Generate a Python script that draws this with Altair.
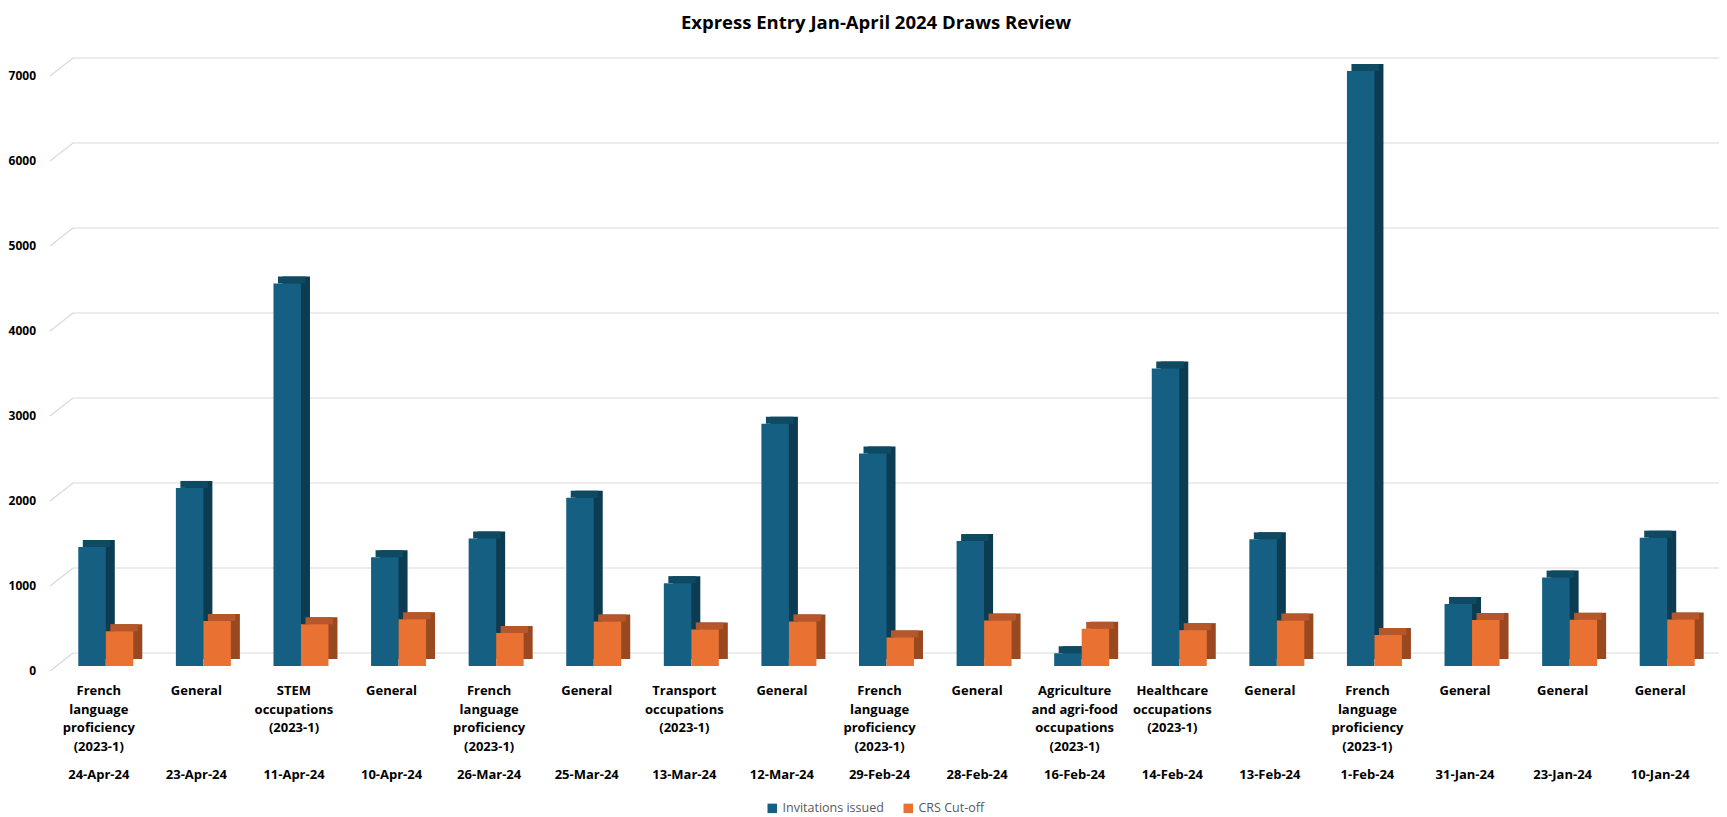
import altair as alt
import pandas as pd

# ---------------- data ----------------
dates = ["24-Apr-24", "23-Apr-24", "11-Apr-24", "10-Apr-24", "26-Mar-24", "25-Mar-24",
         "13-Mar-24", "12-Mar-24", "29-Feb-24", "28-Feb-24", "16-Feb-24", "14-Feb-24",
         "13-Feb-24", "1-Feb-24", "31-Jan-24", "23-Jan-24", "10-Jan-24"]
FR = "French\nlanguage\nproficiency\n(2023-1)"
categories = [FR, "General", "STEM\noccupations\n(2023-1)", "General", FR, "General",
              "Transport\noccupations\n(2023-1)", "General", FR, "General",
              "Agriculture\nand agri-food\noccupations\n(2023-1)",
              "Healthcare\noccupations\n(2023-1)", "General", FR, "General", "General", "General"]
invitations = [1400, 2095, 4500, 1280, 1500, 1980, 975, 2850, 2500, 1470, 150, 3500,
               1490, 7000, 730, 1040, 1510]
crs_cutoff = [410, 529, 491, 549, 388, 524, 430, 525, 336, 534, 437, 422, 535, 365,
              541, 543, 546]
series_names = ["Invitations issued", "CRS Cut-off"]
y_ticks = [0, 1000, 2000, 3000, 4000, 5000, 6000, 7000]
title_text = "Express Entry Jan-April 2024 Draws Review"

df_inv = pd.DataFrame({"date": dates, "category": categories, "value": invitations,
                       "series": series_names[0]})
df_crs = pd.DataFrame({"date": dates, "category": categories, "value": crs_cutoff,
                       "series": series_names[1]})
df_lab = pd.DataFrame({"date": dates, "category": categories})
df_ticks = pd.DataFrame({"v": y_ticks})
df_title = pd.DataFrame({"t": [title_text]})

# ---------------- styling ----------------
W, H = 1659, 595
BW = 27.5
DX, DY = 9, 7
FONT = "Open Sans"
BLUE, BLUE_SIDE, BLUE_TOP = "#156082", "#0c3c51", "#0f4a63"
ORANGE, ORANGE_SIDE, ORANGE_TOP = "#E97132", "#9a4820", "#b5572a"
GRID = "#d9d9d9"

xenc = alt.X("date:N", sort=dates,
             scale=alt.Scale(domain=dates, paddingInner=0.436, paddingOuter=0.218),
             axis=None)
yscale = alt.Scale(domain=[0, 7000], nice=False, zero=True)
yenc = alt.Y("value:Q", scale=yscale, axis=None)
color_scale = alt.Scale(domain=series_names, range=[BLUE, ORANGE])

# back-wall gridlines
grid = alt.Chart(df_ticks).mark_rule(color=GRID, strokeWidth=1.2, yOffset=-13, y2Offset=-13).encode(
    y=alt.Y("v:Q", scale=yscale, axis=None),
    x=alt.value(16), x2=alt.value(W + 8))
diag = alt.Chart(df_ticks).mark_rule(color=GRID, strokeWidth=1.2, yOffset=5, y2Offset=-13).encode(
    y=alt.Y("v:Q", scale=yscale, axis=None), y2="v:Q",
    x=alt.value(-7), x2=alt.value(16))
ylabels = alt.Chart(df_ticks).mark_text(align="right", baseline="middle", dy=5,
                                         font=FONT, fontWeight="bold", fontSize=12,
                                         color="#000000").encode(
    y=alt.Y("v:Q", scale=yscale, axis=None), x=alt.value(-21), text="v:Q")


def bar3d(df, side, top, shift, legend):
    s = alt.Chart(df).mark_bar(width=BW, xOffset=shift + DX, yOffset=-DY, y2Offset=-DY,
                               color=side).encode(x=xenc, y=yenc)
    t = alt.Chart(df).mark_bar(width=BW, xOffset=shift + DX / 2, yOffset=-DY, y2Offset=0,
                               color=top).encode(x=xenc, y=yenc, y2="value:Q")
    f = alt.Chart(df).mark_bar(width=BW, xOffset=shift).encode(
        x=xenc, y=yenc, color=alt.Color("series:N", scale=color_scale, legend=legend))
    return [s, t, f]


legend = alt.Legend(title=None, orient="none", legendX=709, legendY=731,
                    direction="horizontal", symbolType="square", symbolSize=90,
                    symbolStrokeWidth=0, labelFont=FONT, labelFontSize=12.5,
                    labelColor="#595959", columnPadding=18, labelOffset=4, padding=0)

inv_layers = bar3d(df_inv, BLUE_SIDE, BLUE_TOP, -BW / 2, legend)
crs_layers = bar3d(df_crs, ORANGE_SIDE, ORANGE_TOP, BW / 2, legend)

cat_text = alt.Chart(df_lab).mark_text(lineBreak="\n", baseline="top", align="center",
                                       dx=-7, font=FONT, fontWeight="bold", fontSize=13,
                                       lineHeight=18.5, color="#000000").encode(
    x=xenc, y=alt.value(614), text="category:N")
date_text = alt.Chart(df_lab).mark_text(baseline="middle", align="center", dx=-7,
                                        font=FONT, fontWeight="bold", fontSize=13,
                                        color="#000000").encode(
    x=xenc, y=alt.value(704), text="date:N")
title = alt.Chart(df_title).mark_text(baseline="alphabetic", align="center", font=FONT,
                                      fontWeight="bold", fontSize=18.5,
                                      color="#000000").encode(
    x=alt.value(819), y=alt.value(-42), text="t:N")

chart = alt.layer(grid, diag, ylabels, *inv_layers, *crs_layers, cat_text, date_text,
                  title).properties(
    width=W, height=H,
    autosize=alt.AutoSizeParams(type="none"),
    padding={"left": 49, "top": 63, "right": 3, "bottom": 151},
).configure_view(stroke=None)

chart.save("out.html", embed_options={"renderer": "svg", "actions": False})
